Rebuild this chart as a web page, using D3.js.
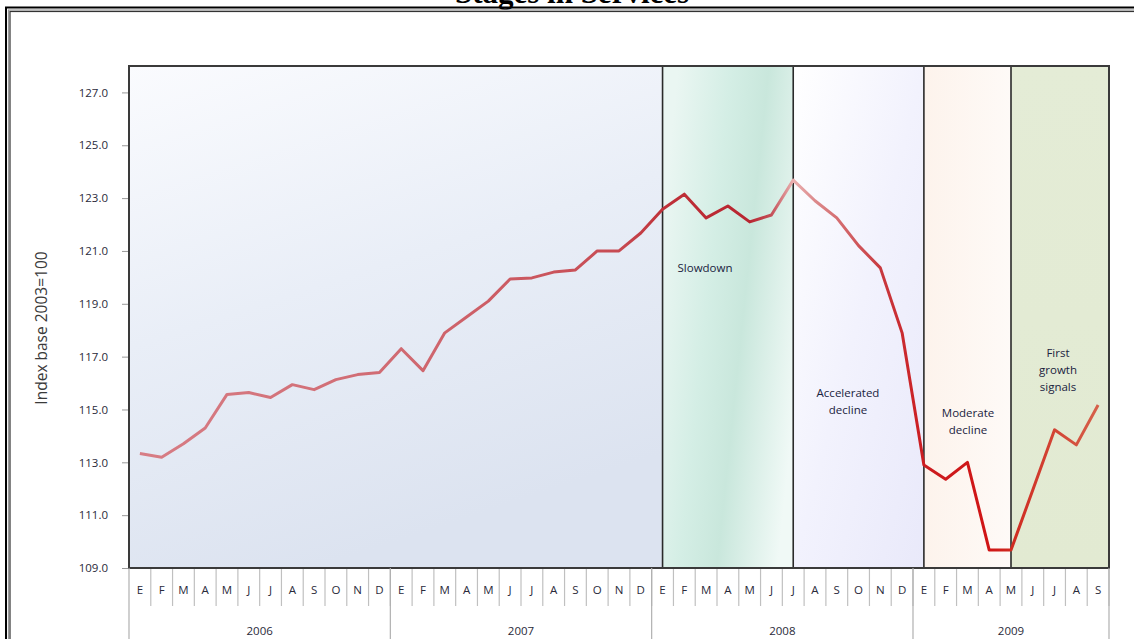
<!DOCTYPE html>
<html><head><meta charset="utf-8">
<script src="https://cdn.jsdelivr.net/npm/d3@7"></script>
<style>html,body{margin:0;padding:0;background:#fff;overflow:hidden}</style>
</head><body>
<svg id="c" width="1134" height="639"></svg>
<script>
const years = ["2006", "2007", "2008", "2009"];
const monthLabels = ["E","F","M","A","M","J","J","A","S","O","N","D"];
const values2006 = [113.33, 113.19, 113.7, 114.3, 115.57, 115.64, 115.45, 115.94, 115.75, 116.13, 116.32, 116.4];
const values2007 = [117.3, 116.47, 117.9, 118.5, 119.1, 119.94, 119.98, 120.2, 120.28, 121.0, 121.0, 121.68];
const values2008 = [122.58, 123.15, 122.25, 122.7, 122.1, 122.36, 123.68, 122.9, 122.25, 121.2, 120.36, 117.9];
const values2009 = [112.9, 112.36, 113.0, 109.68, 109.68, 111.95, 114.23, 113.66, 115.17];
const yTicks = [109, 111, 113, 115, 117, 119, 121, 123, 125, 127];
const stageNames = [["Slowdown"], ["Accelerated", "decline"], ["Moderate", "decline"], ["First", "growth", "signals"]];
const stageStarts = [24, 30, 36, 40]; // month index where each stage begins (category centre)
const title = "Stages in Services";
const yLabel = "Index base 2003=100";

const seriesValues = [values2006, values2007, values2008, values2009];
const data = [];
seriesValues.forEach((arr, yi) => arr.forEach((v, mi) => data.push({i: data.length, year: years[yi], m: monthLabels[mi], v})));

const svg = d3.select("#c");
const L = 129, R = 1109, T = 66, B = 568;
const x = d3.scaleBand().domain(d3.range(data.length)).range([L, R]).padding(0);
const xc = i => x(i) + x.bandwidth() / 2;
const y = d3.scaleLinear().domain([109, 128]).range([B, T]);

const defs = svg.append("defs");
function lg(id, x1, y1, x2, y2, stops) {
  const g = defs.append("linearGradient").attr("id", id)
    .attr("x1", x1).attr("y1", y1).attr("x2", x2).attr("y2", y2);
  stops.forEach(s => g.append("stop").attr("offset", s[0]).attr("stop-color", s[1]));
}
lg("g0", "0", "0", "0.35", "1", [[0, "#fafbfe"], [0.5, "#e9eef7"], [1, "#dce3f0"]]);
lg("g1", "0", "0.3", "1", "0.7", [[0, "#eaf6f2"], [0.35, "#d4eee5"], [0.6, "#c9e7dc"], [1, "#f0f9f6"]]);
lg("g2", "0", "0", "1", "1", [[0, "#ffffff"], [0.5, "#f2f2fd"], [1, "#e9e9fa"]]);
lg("g3", "0", "0", "1", "0", [[0, "#fdf3ec"], [1, "#fefaf7"]]);
lg("g4", "0", "0", "0", "1", [[0, "#e4ecd6"], [1, "#e2ead2"]]);

// line gradient along x
const lineG = defs.append("linearGradient").attr("id", "lineG").attr("gradientUnits", "userSpaceOnUse")
  .attr("x1", xc(0)).attr("y1", 0).attr("x2", xc(data.length - 1)).attr("y2", 0);
const lineStops = [[0, "#d77d85"], [12, "#d06a72"], [22, "#c74a52"], [24, "#bf3139"], [28, "#b82530"], [29, "#c45058"], [30, "#eab0b0"], [31, "#dc8a8c"], [34, "#c83a40"], [36, "#cc1c20"], [39, "#d01515"], [40, "#cf2a20"], [44, "#d6604a"]];
lineStops.forEach(s => lineG.append("stop").attr("offset", s[0] / (data.length - 1)).attr("stop-color", s[1]));

// stage backgrounds
const bounds = [L, ...stageStarts.map(xc), R];
const fills = ["url(#g0)", "url(#g1)", "url(#g2)", "url(#g3)", "url(#g4)"];
bounds.slice(0, -1).forEach((bx, k) => {
  svg.append("rect").attr("x", bx).attr("y", T).attr("width", bounds[k + 1] - bx).attr("height", B - T).attr("fill", fills[k]);
});

// title
svg.append("text").attr("x", 572).attr("y", 3).attr("text-anchor", "middle")
  .attr("font-family", "Liberation Serif, serif").attr("font-weight", "bold").attr("font-size", 31)
  .attr("fill", "#000").text(title);

// outer frame
svg.append("rect").attr("x", 6).attr("y", 7.5).attr("width", 1140).attr("height", 640).attr("fill", "none").attr("stroke", "#000").attr("stroke-width", 2);
svg.append("rect").attr("x", 8.5).attr("y", 10).attr("width", 1140).attr("height", 640).attr("fill", "none").attr("stroke", "#9a9a9a").attr("stroke-width", 1.2);
svg.append("rect").attr("x", 10).attr("y", 11.5).attr("width", 1140).attr("height", 640).attr("fill", "none").attr("stroke", "#333", ).attr("stroke-width", 1.2);

// stage divider lines
stageStarts.forEach(si => {
  svg.append("line").attr("x1", xc(si)).attr("x2", xc(si)).attr("y1", T).attr("y2", B)
    .attr("stroke", "#2a2a2a").attr("stroke-width", 1.6);
});

// plot border
svg.append("rect").attr("x", L).attr("y", T).attr("width", R - L).attr("height", B - T)
  .attr("fill", "none").attr("stroke", "#3a3a3a").attr("stroke-width", 2);

// y axis
const yAxis = d3.axisLeft(y).tickValues(yTicks).tickSize(6).tickPadding(14).tickFormat(d3.format(".1f"));
const ya = svg.append("g").attr("transform", `translate(${L - 1},0)`).call(yAxis);
ya.select(".domain").remove();
ya.selectAll("line").attr("stroke", "#999");
ya.selectAll("text").attr("font-family", "Open Sans, sans-serif").attr("font-size", 11.5).attr("fill", "#2a2a3a");

svg.append("text").attr("transform", `translate(47,328) rotate(-90)`).attr("text-anchor", "middle")
  .attr("font-family", "Open Sans, sans-serif").attr("font-size", 15.5).attr("fill", "#3a3a3a").text(yLabel);

// x axis (month level)
const xAxis = d3.axisBottom(x).tickSize(0).tickPadding(18).tickFormat(i => data[i].m);
const xa = svg.append("g").attr("transform", `translate(0,${B})`).call(xAxis);
xa.select(".domain").remove();
xa.selectAll("text").attr("font-family", "Open Sans, sans-serif").attr("font-size", 11.5).attr("fill", "#2a2a3a");
// month separators
d3.range(1, data.length + 1).forEach(i => {
  const xx = i < data.length ? x(i) : R;
  svg.append("line").attr("x1", xx).attr("x2", xx).attr("y1", B + 1).attr("y2", B + 38).attr("stroke", "#c0c0c0").attr("stroke-width", 1.2);
});
// year separators + labels
svg.append("line").attr("x1", L).attr("x2", L).attr("y1", B).attr("y2", 639).attr("stroke", "#b0b0b0").attr("stroke-width", 1.2);
let idx = 0;
seriesValues.forEach((arr, yi) => {
  const x0 = x(idx), x1 = idx + arr.length < data.length ? x(idx + arr.length) : R;
  svg.append("line").attr("x1", x1).attr("x2", x1).attr("y1", B).attr("y2", 639).attr("stroke", "#b0b0b0").attr("stroke-width", 1.2);
  svg.append("text").attr("x", (x0 + x1) / 2).attr("y", 635).attr("text-anchor", "middle")
    .attr("font-family", "Open Sans, sans-serif").attr("font-size", 11.5).attr("fill", "#2a2a3a").text(years[yi]);
  idx += arr.length;
});

// line
const line = d3.line().x(d => xc(d.i)).y(d => y(d.v));
svg.append("path").datum(data).attr("d", line).attr("fill", "none")
  .attr("stroke", "url(#lineG)").attr("stroke-width", 3).attr("stroke-linejoin", "round");

// stage labels
const labelPos = [[705, 272], [848, 397], [968, 417], [1058, 357]];
stageNames.forEach((lines, k) => {
  const t = svg.append("text").attr("text-anchor", "middle")
    .attr("font-family", "Open Sans, sans-serif").attr("font-size", 11.5).attr("fill", "#1a2340");
  lines.forEach((s, j) => t.append("tspan").attr("x", labelPos[k][0]).attr("y", labelPos[k][1] + j * 17).text(s));
});
</script>
</body></html>
